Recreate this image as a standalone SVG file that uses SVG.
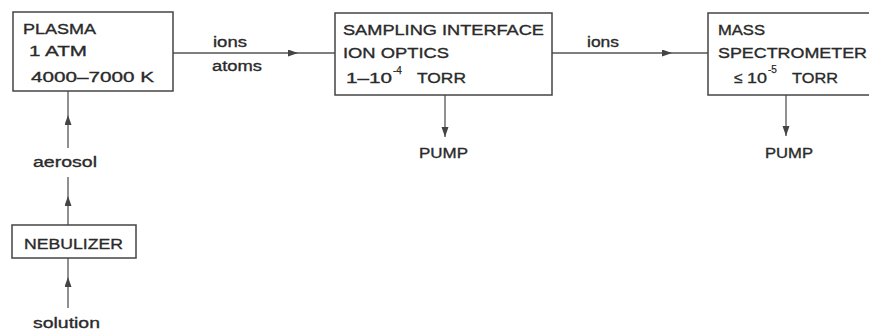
<svg xmlns="http://www.w3.org/2000/svg" width="869" height="331" viewBox="0 0 869 331">
<style>
.box{fill:#fff;stroke:#444;stroke-width:1.5}
.ln{stroke:#555;stroke-width:1.3;fill:none}
text{font-family:"Liberation Sans",Arial,sans-serif;font-size:15.5px;fill:#2a2a2a;stroke:#2a2a2a;stroke-width:0.35}
.sup{font-size:10px;stroke-width:0.25}
</style>
<defs>
<marker id="ah" markerUnits="userSpaceOnUse" markerWidth="10" markerHeight="8" refX="10" refY="3.5" orient="auto">
<path d="M0,0 L10,3.5 L0,7 z" fill="#444"/>
</marker>
</defs>
<rect width="869" height="331" fill="#fff"/>
<g id="connectors">
<line class="ln" x1="173" y1="53" x2="298" y2="53" marker-end="url(#ah)"/>
<line class="ln" x1="298" y1="53" x2="335" y2="53"/>
<line class="ln" x1="552" y1="53" x2="672" y2="53" marker-end="url(#ah)"/>
<line class="ln" x1="672" y1="53" x2="708" y2="53"/>
<line class="ln" x1="445" y1="95" x2="445" y2="137" marker-end="url(#ah)"/>
<line class="ln" x1="786" y1="95" x2="786" y2="136" marker-end="url(#ah)"/>
<line class="ln" x1="68" y1="148" x2="68" y2="115" marker-end="url(#ah)"/>
<line class="ln" x1="68" y1="115" x2="68" y2="91"/>
<line class="ln" x1="68" y1="225" x2="68" y2="196" marker-end="url(#ah)"/>
<line class="ln" x1="68" y1="196" x2="68" y2="177"/>
<line class="ln" x1="68" y1="308" x2="68" y2="277" marker-end="url(#ah)"/>
<line class="ln" x1="68" y1="277" x2="68" y2="258"/>
</g>
<g id="plasma">
<rect class="box" x="13" y="12" width="160" height="79"/>
<text x="23" y="34" textLength="73" lengthAdjust="spacingAndGlyphs">PLASMA</text>
<text x="29" y="56" textLength="58" lengthAdjust="spacingAndGlyphs">1 ATM</text>
<text x="31" y="82" textLength="123" lengthAdjust="spacingAndGlyphs">4000–7000 K</text>
</g>
<g id="label-ions-atoms">
<text x="213" y="47" textLength="34" lengthAdjust="spacingAndGlyphs">ions</text>
<text x="212" y="71" textLength="50" lengthAdjust="spacingAndGlyphs">atoms</text>
</g>
<g id="sampling">
<rect class="box" x="335" y="13" width="217" height="82"/>
<text x="343" y="35" textLength="201" lengthAdjust="spacingAndGlyphs">SAMPLING INTERFACE</text>
<text x="343" y="58" textLength="106" lengthAdjust="spacingAndGlyphs">ION OPTICS</text>
<text x="346" y="83" textLength="46" lengthAdjust="spacingAndGlyphs">1–10</text>
<text class="sup" x="393" y="74">-4</text>
<text x="417" y="83" textLength="49" lengthAdjust="spacingAndGlyphs">TORR</text>
</g>
<g id="label-ions2">
<text x="587" y="47" textLength="32" lengthAdjust="spacingAndGlyphs">ions</text>
</g>
<g id="mass">
<rect class="box" x="708" y="13" width="175" height="82"/>
<text x="718" y="35" textLength="47" lengthAdjust="spacingAndGlyphs">MASS</text>
<text x="718" y="58" textLength="149" lengthAdjust="spacingAndGlyphs">SPECTROMETER</text>
<text x="734" y="83">≤</text>
<text x="747" y="83" textLength="20" lengthAdjust="spacingAndGlyphs">10</text>
<text class="sup" x="768" y="73">-5</text>
<text x="792" y="83" textLength="46" lengthAdjust="spacingAndGlyphs">TORR</text>
</g>
<g id="pump1">
<text x="419" y="158" textLength="49" lengthAdjust="spacingAndGlyphs">PUMP</text>
</g>
<g id="pump2">
<text x="765" y="158" textLength="48" lengthAdjust="spacingAndGlyphs">PUMP</text>
</g>
<g id="aerosol">
<text x="33" y="167" textLength="64" lengthAdjust="spacingAndGlyphs">aerosol</text>
</g>
<g id="nebulizer">
<rect class="box" x="12" y="225" width="124" height="33"/>
<text x="24" y="249" textLength="99" lengthAdjust="spacingAndGlyphs">NEBULIZER</text>
</g>
<g id="solution">
<text x="33" y="328" textLength="67" lengthAdjust="spacingAndGlyphs">solution</text>
</g>
</svg>
